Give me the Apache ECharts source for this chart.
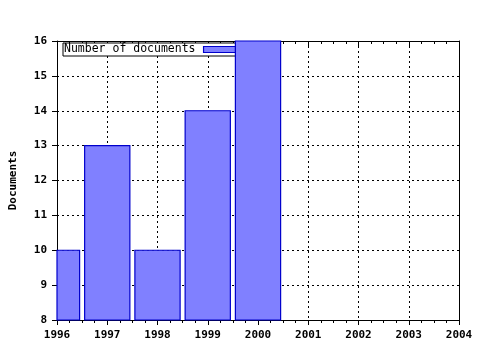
<!DOCTYPE html>
<html><head><meta charset="utf-8">
<script src="https://cdn.jsdelivr.net/npm/echarts@6/dist/echarts.min.js"></script>
<style>html,body{margin:0;padding:0;background:#fff}#c{width:480px;height:350px}</style>
</head><body><div id="c"></div>
<script>
const years = [1996, 1997, 1998, 1999, 2000];
const documents = [10, 13, 10, 14, 16];
const seriesName = 'Number of documents';
const yTitle = 'Documents';

const FONT = '"DejaVu Sans Mono", "Liberation Mono", monospace';
const BAR_HALF = 0.45; // half bar width in years
const chart = echarts.init(document.getElementById('c'), null, {renderer: 'canvas'});
const dotted = {show: true, lineStyle: {color: '#000', width: 1, type: [2, 3]}};
const fill = '#8080ff', stroke = '#0000cc';
chart.setOption({
  animation: false,
  backgroundColor: '#fff',
  grid: {left: 56, right: 21, top: 41, bottom: 30},
  legend: {
    left: 63, top: 43, z: 1, align: 'right', icon: 'rect',
    itemWidth: 32, itemHeight: 6, itemGap: 0,
    padding: [0, 4, 0, 1],
    backgroundColor: '#fff', borderColor: '#000', borderWidth: 1, borderRadius: 0,
    itemStyle: {color: fill, borderColor: stroke, borderWidth: 1.2},
    textStyle: {fontFamily: FONT, fontSize: 11.5, color: '#000', lineHeight: 13, padding: [0, 3, 0, 0]},
    data: [seriesName]
  },
  xAxis: [{
    type: 'value', min: 1996, max: 2004, interval: 1, position: 'bottom',
    axisLine: {show: true, lineStyle: {color: '#000', width: 1}},
    axisTick: {show: true, length: 5, lineStyle: {color: '#000'}},
    minorTick: {show: true, splitNumber: 4, length: 3, lineStyle: {color: '#000'}},
    splitLine: dotted,
    axisLabel: {color: '#000', fontFamily: FONT, fontWeight: 'bold', fontSize: 11, margin: 10,
      formatter: v => String(v)}
  }, {
    type: 'value', min: 1996, max: 2004, interval: 1, position: 'top',
    axisLine: {show: true, lineStyle: {color: '#000', width: 1}},
    axisTick: {show: true, inside: true, length: 5, lineStyle: {color: '#000'}},
    minorTick: {show: true, splitNumber: 4, length: 3, lineStyle: {color: '#000'}},
    splitLine: {show: false}, axisLabel: {show: false}
  }],
  yAxis: [{
    type: 'value', min: 8, max: 16, interval: 1, position: 'left',
    name: yTitle, nameLocation: 'middle', nameGap: 38, nameRotate: 90,
    nameTextStyle: {color: '#000', fontFamily: FONT, fontWeight: 'bold', fontSize: 11},
    axisLine: {show: true, lineStyle: {color: '#000', width: 1}},
    axisTick: {show: true, length: 5, lineStyle: {color: '#000'}},
    splitLine: dotted,
    axisLabel: {color: '#000', fontFamily: FONT, fontWeight: 'bold', fontSize: 11, margin: 10}
  }, {
    type: 'value', min: 8, max: 16, interval: 1, position: 'right',
    axisLine: {show: true, lineStyle: {color: '#000', width: 1}},
    axisTick: {show: false}, splitLine: {show: false}, axisLabel: {show: false}
  }],
  series: [{
    name: seriesName, type: 'custom', xAxisIndex: 0, yAxisIndex: 0, z: 2,
    itemStyle: {color: fill, borderColor: stroke, borderWidth: 1.2},
    encode: {x: 0, y: 1},
    renderItem: function (params, api) {
      const x = api.value(0), y = api.value(1);
      const p1 = api.coord([x - BAR_HALF, y]);
      const p2 = api.coord([x + BAR_HALF, 8]);
      const cs = params.coordSys;
      const shape = echarts.graphic.clipRectByRect(
        {x: p1[0], y: p1[1], width: p2[0] - p1[0], height: p2[1] - p1[1]},
        {x: cs.x, y: cs.y, width: cs.width, height: cs.height});
      return shape && {type: 'rect', shape: shape,
        style: {fill: fill, stroke: stroke, lineWidth: 1.2}};
    },
    data: years.map((y, i) => [y, documents[i]])
  }]
});
</script></body></html>
